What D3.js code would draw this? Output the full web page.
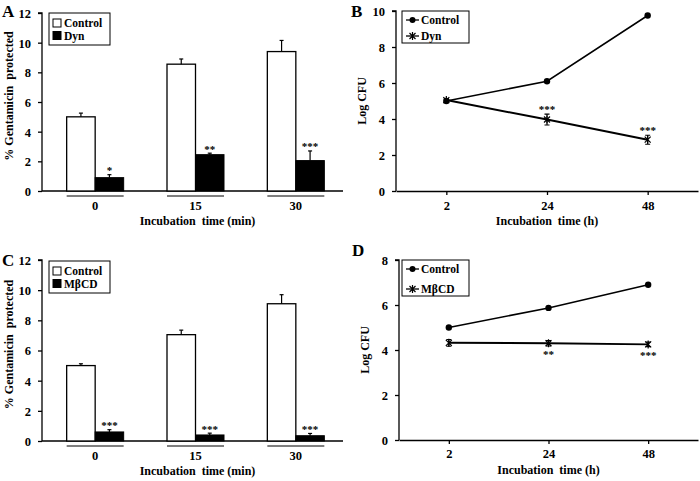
<!DOCTYPE html>
<html><head><meta charset="utf-8">
<script src="https://cdn.jsdelivr.net/npm/d3@7"></script>
<style>
body{margin:0;background:#fff;}
svg text{font-family:"Liberation Serif","Times New Roman",serif !important;font-weight:bold !important;fill:#000 !important;}
</style></head>
<body><svg id="c" width="700" height="481" font-family="Liberation Serif" font-weight="bold"></svg>
<script>
// ---- data ----
const barCategories = ["0","15","30"];
const aControl = [5.0, 8.55, 9.4];
const aControlErr = [0.25, 0.35, 0.75];
const aDyn = [0.9, 2.45, 2.05];
const aDynErr = [0.2, 0.1, 0.65];
const aStars = ["*","**","***"];

const cControl = [5.0, 7.05, 9.1];
const cControlErr = [0.12, 0.3, 0.6];
const cMbcd = [0.6, 0.4, 0.35];
const cMbcdErr = [0.15, 0.12, 0.15];
const cStars = ["***","***","***"];

const lineCategories = ["2","24","48"];
const bControl = [5.0, 6.1, 9.75];
const bDyn = [5.05, 3.97, 2.85];
const bDynErr = [0.08, 0.3, 0.25];
const bStars = ["","***","***"];

const dControl = [5.0, 5.87, 6.9];
const dMbcd = [4.32, 4.3, 4.25];
const dMbcdErr = [0.15, 0.12, 0.1];
const dStars = ["","**","***"];

const barTicks = [0,2,4,6,8,10,12];
const bTicks = [0,2,4,6,8,10];
const dTicks = [0,2,4,6,8];

const svg = d3.select("#c");
const FF = "'Liberation Serif','Times New Roman',serif";
function txt(g){ return g.append("text").attr("font-family",FF).attr("font-weight","bold").attr("fill","#000"); }

function styleAxis(s){
  s.attr("font-family",FF).attr("font-size",12);
  s.select(".domain").attr("stroke","#000").attr("stroke-width",1.3);
  s.selectAll("line").attr("stroke","#000").attr("stroke-width",1.3);
  s.selectAll("text").attr("font-family",FF).attr("font-weight","bold").attr("font-size",12.5).attr("fill","#000");
}

function barPanel(o){
  const g = svg.append("g");
  const y = d3.scaleLinear().domain([0,12]).range([o.y0, o.y1]);
  const x = d3.scalePoint().domain(barCategories).range([o.x0, o.x1]).padding(0.5);
  const bw = 28.5;
  const ya = d3.axisLeft(y).tickValues(barTicks).tickSize(4).tickFormat(d3.format("d"));
  g.append("g").attr("transform",`translate(${o.x0},0)`).call(ya)
    .call(s=>{styleAxis(s); s.select(".domain").attr("d",`M-4,${o.y1}H0V${o.y0}`);
      s.selectAll("text").attr("x",-11).attr("dy","0.35em");});
  g.append("line").attr("x1",o.x0).attr("x2",o.x1).attr("y1",o.y0).attr("y2",o.y0).attr("stroke","#000").attr("stroke-width",1.3);
  const ctrl = o.control, trt = o.treat;
  barCategories.forEach((c,i)=>{
    const cx = x(c)+3;
    g.append("rect").attr("x",cx-bw).attr("y",y(ctrl[i])).attr("width",bw).attr("height",o.y0-y(ctrl[i]))
      .attr("fill","#fff").attr("stroke","#000").attr("stroke-width",1.3);
    g.append("line").attr("x1",cx-bw/2).attr("x2",cx-bw/2).attr("y1",y(ctrl[i])).attr("y2",y(ctrl[i]+o.controlErr[i])).attr("stroke","#000").attr("stroke-width",1.2);
    g.append("line").attr("x1",cx-bw/2-2).attr("x2",cx-bw/2+2).attr("y1",y(ctrl[i]+o.controlErr[i])).attr("y2",y(ctrl[i]+o.controlErr[i])).attr("stroke","#000").attr("stroke-width",1.2);
    g.append("rect").attr("x",cx).attr("y",y(trt[i])).attr("width",bw).attr("height",o.y0-y(trt[i]))
      .attr("fill","#000").attr("stroke","#000").attr("stroke-width",1);
    g.append("line").attr("x1",cx+bw/2).attr("x2",cx+bw/2).attr("y1",y(trt[i])).attr("y2",y(trt[i]+o.treatErr[i])).attr("stroke","#000").attr("stroke-width",1.2);
    g.append("line").attr("x1",cx+bw/2-2).attr("x2",cx+bw/2+2).attr("y1",y(trt[i]+o.treatErr[i])).attr("y2",y(trt[i]+o.treatErr[i])).attr("stroke","#000").attr("stroke-width",1.2);
    txt(g).attr("x",cx+bw/2).attr("y",y(trt[i]+o.treatErr[i])-0.5).attr("text-anchor","middle").attr("font-size",11).text(o.stars[i]);
    g.append("line").attr("x1",cx-bw).attr("x2",cx+bw).attr("y1",o.y0+5).attr("y2",o.y0+5).attr("stroke","#000").attr("stroke-width",1);
    txt(g).attr("x",cx).attr("y",o.y0+19).attr("text-anchor","middle").attr("font-size",12.5).text(c);
  });
  txt(g).attr("x",(o.x0+o.x1)/2+5).attr("y",o.y0+34).attr("text-anchor","middle").attr("font-size",12).style("white-space","pre").text("Incubation  time (min)");
  txt(g).attr("transform",`translate(${o.x0-29},${(o.y0+o.y1)/2-6}) rotate(-90)`).attr("text-anchor","middle").attr("font-size",12).style("white-space","pre").text("% Gentamicin  protected");
  txt(g).attr("x",o.lx).attr("y",o.ly).attr("font-size",17).text(o.label);
  const L = o.legend;
  g.append("rect").attr("x",L.x).attr("y",L.y).attr("width",L.w).attr("height",L.h).attr("fill","#fff").attr("stroke","#000").attr("stroke-width",1);
  [[o.names[0],"#fff"],[o.names[1],"#000"]].forEach((d,k)=>{
    const yy = L.y+10+k*12.5;
    g.append("rect").attr("x",L.x+4).attr("y",yy-4).attr("width",8).attr("height",8).attr("fill",d[1]).attr("stroke","#000").attr("stroke-width",1);
    txt(g).attr("x",L.x+15).attr("y",yy+4).attr("font-size",11.5).text(d[0]);
  });
}

function starMarker(g,cx,cy,r){
  g.append("path").attr("d",`M${cx-r},${cy-r}L${cx+r},${cy+r}M${cx-r},${cy+r}L${cx+r},${cy-r}M${cx},${cy-r-1}L${cx},${cy+r+1}`)
    .attr("stroke","#000").attr("stroke-width",1.2).attr("fill","none");
}

function linePanel(o){
  const g = svg.append("g");
  const y = d3.scaleLinear().domain([0,o.ymax]).range([o.y0, o.y1]);
  const x = d3.scalePoint().domain(lineCategories).range([o.x0, o.x1]).padding(0.5);
  const ya = d3.axisLeft(y).tickValues(o.ticks).tickSize(4).tickFormat(d3.format("d"));
  g.append("g").attr("transform",`translate(${o.x0},0)`).call(ya)
    .call(s=>{styleAxis(s); s.select(".domain").attr("d",`M-4,${o.y1}H0V${o.y0}`);
      s.selectAll("text").attr("x",-11).attr("dy","0.35em");});
  const xa = d3.axisBottom(x).tickSize(4).tickSizeOuter(0);
  g.append("g").attr("transform",`translate(0,${o.y0})`).call(xa)
    .call(s=>{styleAxis(s); s.selectAll("text").attr("y",o.tickDy).attr("dy","0");});
  const line = d3.line().x((d,i)=>x(lineCategories[i])).y(d=>y(d));
  g.append("path").attr("d",line(o.control)).attr("fill","none").attr("stroke","#000").attr("stroke-width",1.5);
  g.append("path").attr("d",line(o.treat)).attr("fill","none").attr("stroke","#000").attr("stroke-width",2);
  o.control.forEach((v,i)=>{
    g.append("circle").attr("cx",x(lineCategories[i])).attr("cy",y(v)).attr("r",3.2).attr("fill","#000");
  });
  o.treat.forEach((v,i)=>{
    const cx = x(lineCategories[i]);
    const e = o.treatErr[i];
    g.append("path").attr("d",`M${cx},${y(v+e)}V${y(v-e)}M${cx-2.5},${y(v+e)}H${cx+2.5}M${cx-2.5},${y(v-e)}H${cx+2.5}`).attr("stroke","#000").attr("stroke-width",1.1).attr("fill","none");
    starMarker(g,cx,y(v),3);
    if(o.stars[i]) txt(g).attr("x",cx).attr("y",o.starsBelow? y(v-e)+12 : y(v+e)-1).attr("text-anchor","middle").attr("font-size",11).text(o.stars[i]);
  });
  txt(g).attr("x",(o.x0+o.x1)/2).attr("y",o.titleY).attr("text-anchor","middle").attr("font-size",12).style("white-space","pre").text("Incubation  time (h)");
  txt(g).attr("transform",`translate(${o.x0-30},${(o.y0+o.y1)/2}) rotate(-90)`).attr("text-anchor","middle").attr("font-size",12).text("Log CFU");
  txt(g).attr("x",o.lx).attr("y",o.ly).attr("font-size",17).text(o.label);
  const L = o.legend;
  g.append("rect").attr("x",L.x).attr("y",L.y).attr("width",L.w).attr("height",L.h).attr("fill","#fff").attr("stroke","#000").attr("stroke-width",1);
  [0,1].forEach(k=>{
    const yy = L.y+9+k*(L.h-16);
    g.append("line").attr("x1",L.x+4).attr("x2",L.x+17).attr("y1",yy).attr("y2",yy).attr("stroke","#000").attr("stroke-width",1.3);
    if(k===0) g.append("circle").attr("cx",L.x+10.5).attr("cy",yy).attr("r",3).attr("fill","#000");
    else starMarker(g,L.x+10.5,yy,3);
    txt(g).attr("x",L.x+19).attr("y",yy+4).attr("font-size",11.5).text(o.names[k]);
  });
}

barPanel({x0:42,x1:343,y0:191,y1:13,control:aControl,controlErr:aControlErr,treat:aDyn,treatErr:aDynErr,stars:aStars,
  names:["Control","Dyn"],label:"A",lx:2,ly:17,legend:{x:49,y:13,w:61,h:32}});
barPanel({x0:42,x1:343,y0:441,y1:260,control:cControl,controlErr:cControlErr,treat:cMbcd,treatErr:cMbcdErr,stars:cStars,
  names:["Control","MβCD"],label:"C",lx:2,ly:266,legend:{x:49,y:261,w:61,h:32}});
linePanel({x0:396,x1:698,y0:191,y1:11,ymax:10,ticks:bTicks,control:bControl,treat:bDyn,treatErr:bDynErr,stars:bStars,starsBelow:false,
  tickDy:19,titleY:225,names:["Control","Dyn"],label:"B",lx:351,ly:17,legend:{x:402,y:11,w:67,h:32}});
linePanel({x0:399,x1:698,y0:440,y1:260,ymax:8,ticks:dTicks,control:dControl,treat:dMbcd,treatErr:dMbcdErr,stars:dStars,starsBelow:true,
  tickDy:18,titleY:474,names:["Control","MβCD"],label:"D",lx:352,ly:256,legend:{x:402,y:260,w:67,h:36}});
</script></body></html>
